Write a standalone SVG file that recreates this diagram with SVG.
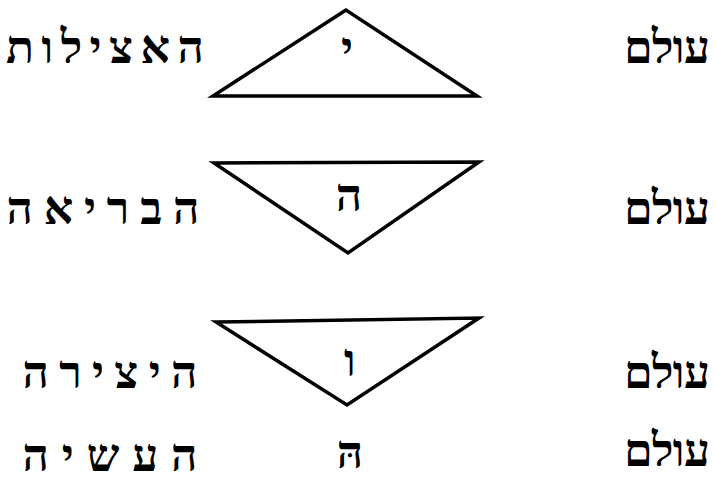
<svg xmlns="http://www.w3.org/2000/svg" width="716" height="495" viewBox="0 0 716 495">
<style>
.t{font-family:"Liberation Serif","DejaVu Sans",serif;font-size:46px;font-weight:bold;fill:#000;direction:rtl;text-anchor:middle}
.l{font-family:"Liberation Serif","DejaVu Sans",serif;font-size:46px;font-weight:bold;fill:#000;text-anchor:middle}
.tri{fill:#fff;stroke:#000;stroke-width:3.5;stroke-linejoin:miter}
</style>
<rect width="716" height="495" fill="#fff"/>
<g id="row1">
<polygon class="tri" points="346,10 213,96 477,96"/>
<text class="l" x="347" y="64">י</text>
<text class="t" x="105" y="63" textLength="198" lengthAdjust="spacing">האצילות</text>
<text class="t" x="667" y="63" textLength="86" lengthAdjust="spacing">עולם</text>
</g>
<g id="row2">
<polygon class="tri" points="214,163 479,162 348,253"/>
<text class="l" x="349" y="211">ה</text>
<text class="t" x="103" y="224" textLength="193" lengthAdjust="spacing">הבריאה</text>
<text class="t" x="667" y="224" textLength="86" lengthAdjust="spacing">עולם</text>
</g>
<g id="row3">
<polygon class="tri" points="216,322 479,318 347,405"/>
<text class="l" x="350" y="376">ו</text>
<text class="t" x="110" y="388" textLength="175" lengthAdjust="spacing">היצירה</text>
<text class="t" x="667" y="388" textLength="86" lengthAdjust="spacing">עולם</text>
</g>
<g id="row4">
<text class="l" x="350" y="468">הּ</text>
<text class="t" x="110" y="471" textLength="175" lengthAdjust="spacing">העשיה</text>
<text class="t" x="667" y="466" textLength="86" lengthAdjust="spacing">עולם</text>
</g>
<g id="connectors"></g>
</svg>
